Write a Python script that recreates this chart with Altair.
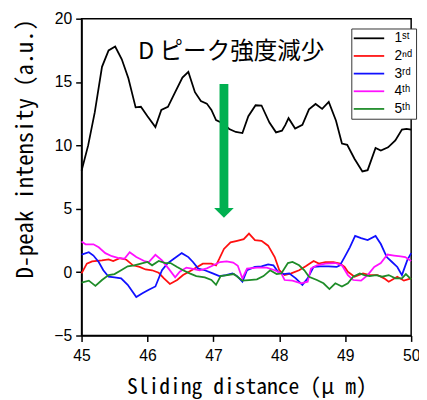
import altair as alt
import pandas as pd

# ---------------- data ----------------
series_names = ["1ˢᵗ", "2ⁿᵈ", "3ʳᵈ", "4ᵗʰ", "5ᵗʰ"]
series_colors = ["#000000", "#ff1010", "#1010ff", "#ff10ff", "#1e8c28"]

x1 = [45.0, 45.1, 45.2, 45.31, 45.41, 45.51, 45.61, 45.71, 45.82, 45.9, 46.0, 46.12, 46.21,
      46.31, 46.42, 46.53, 46.62, 46.72, 46.81, 46.9, 46.97, 47.04, 47.14, 47.24, 47.34, 47.44,
      47.53, 47.64, 47.73, 47.85, 47.95, 48.04, 48.09, 48.14, 48.24, 48.35, 48.45, 48.55, 48.65,
      48.75, 48.86, 48.95, 49.03, 49.14, 49.26, 49.34, 49.46, 49.54, 49.65, 49.76, 49.86, 49.93, 50.0]
y1 = [8.0, 10.0, 12.6, 16.2, 17.5, 17.8, 16.8, 15.3, 13.0, 13.05, 12.3, 11.45, 12.8,
      13.04, 14.2, 15.35, 15.8, 14.2, 13.5, 13.3, 12.8, 12.0, 11.75, 11.3, 11.06, 10.98,
      12.3, 13.17, 13.15, 11.8, 11.03, 11.16, 11.6, 12.15, 11.33, 11.62, 12.85, 13.27, 12.88,
      13.43, 11.95, 10.15, 10.05, 8.95, 7.95, 8.05, 9.8, 9.6, 9.85, 10.4, 11.25, 11.3, 11.25]

x2 = [45.0, 45.08, 45.16, 45.31, 45.41, 45.48, 45.58, 45.68, 45.78, 45.88, 45.97, 46.07, 46.17,
      46.25, 46.34, 46.45, 46.54, 46.67, 46.84, 46.97, 47.04, 47.09, 47.16, 47.26, 47.36, 47.46,
      47.54, 47.63, 47.73, 47.83, 47.93, 48.0, 48.08, 48.18, 48.3, 48.4, 48.52, 48.6, 48.7,
      48.82, 48.92, 48.99, 49.04, 49.14, 49.27, 49.37, 49.49, 49.59, 49.66, 49.79, 49.89, 50.0]
y2 = [-0.1, 0.67, 0.85, 0.93, 1.0, 0.88, 1.11, 0.98, 0.54, 0.41, 0.21, 0.15, -0.05,
      -0.49, -0.93, -0.62, -0.23, 0.15, 0.67, 0.67, 0.54, 1.06, 1.83, 2.35, 2.47, 2.6,
      3.04, 2.53, 2.47, 2.09, 1.19, 0.15, -0.23, -0.1, 0.15, 0.46, 0.88, 0.67, 0.8,
      0.8, 0.67, 0.41, 0.03, -0.36, -0.1, -0.23, -0.23, -0.49, -0.75, -0.36, -0.67, -0.49]

x3 = [45.0, 45.11, 45.18, 45.26, 45.33, 45.41, 45.5, 45.6, 45.7, 45.83, 45.93, 46.02, 46.12,
      46.22, 46.3, 46.4, 46.52, 46.62, 46.69, 46.77, 46.87, 46.99, 47.09, 47.19, 47.29, 47.36,
      47.44, 47.51, 47.63, 47.73, 47.83, 47.91, 47.98, 48.06, 48.15, 48.25, 48.35, 48.43, 48.52,
      48.62, 48.75, 48.87, 48.92, 48.99, 49.07, 49.15, 49.24, 49.34, 49.46, 49.54, 49.63, 49.71,
      49.79, 49.86, 49.94, 50.0]
y3 = [1.39, 1.57, 1.31, 0.8, 0.15, -0.36, -0.41, -0.49, -1.0, -1.96, -1.65, -1.39, -1.13,
      0.15, 0.67, 1.06, 1.5, 1.19, 0.8, 0.28, 0.15, -0.1, -0.31, -0.23, -0.1, -0.31,
      -0.75, 0.15, 0.41, 0.46, 0.62, 0.54, 0.03, -0.15, -0.1, -0.49, -1.0, -0.49, 0.41,
      0.46, 0.46, 0.41, 0.54, 1.19, 1.96, 2.86, 2.68, 2.53, 2.86, 2.22, 1.19, 0.8,
      0.41, -0.23, 0.93, 1.5]

x4 = [45.0, 45.06, 45.18, 45.26, 45.36, 45.46, 45.55, 45.65, 45.73, 45.83, 45.95, 46.02, 46.12,
      46.22, 46.32, 46.42, 46.49, 46.59, 46.67, 46.79, 46.9, 47.0, 47.1, 47.2, 47.3, 47.37,
      47.44, 47.51, 47.66, 47.81, 47.93, 48.03, 48.08, 48.2, 48.33, 48.43, 48.48, 48.57, 48.7,
      48.85, 48.95, 49.04, 49.12, 49.24, 49.34, 49.44, 49.54, 49.64, 49.74, 49.84, 49.91, 50.0]
y4 = [2.42, 2.2, 2.2, 1.96, 1.5, 1.26, 1.13, 1.06, 1.57, 1.19, 0.88, 0.8, 1.37,
      0.93, 0.28, -0.41, 0.03, 0.36, 0.28, 0.15, 0.3, 0.55, 0.8, 0.85, 0.75, 0.5,
      -0.5, 0.28, 0.36, 0.36, 0.15, -0.1, -0.62, -0.67, -0.88, -0.75, 0.28, 0.54, 0.67,
      0.72, 0.54, -0.23, -0.62, -0.67, -0.23, 0.41, 0.72, 1.39, 1.31, 1.24, 1.19, 0.88]

x5 = [45.0, 45.11, 45.21, 45.31, 45.41, 45.5, 45.6, 45.7, 45.8, 45.9, 46.0, 46.07, 46.17,
      46.27, 46.35, 46.45, 46.54, 46.64, 46.74, 46.87, 46.97, 47.04, 47.11, 47.21, 47.31, 47.44,
      47.54, 47.66, 47.76, 47.86, 47.96, 48.03, 48.13, 48.2, 48.3, 48.38, 48.45, 48.57, 48.67,
      48.76, 48.85, 48.95, 49.04, 49.12, 49.22, 49.29, 49.37, 49.47, 49.56, 49.66, 49.76, 49.86,
      49.92, 50.0]
y5 = [-0.82, -0.67, -1.08, -0.62, -0.23, -0.15, 0.15, 0.46, 0.54, 0.67, 0.8, 0.54, 0.88,
      0.72, 0.72, 0.41, 0.15, -0.1, -0.31, -0.41, -0.62, -1.0, -0.31, -0.23, -0.15, -0.67,
      -0.62, -0.57, -0.31, 0.15, -0.15, -0.1, 0.72, 0.8, 0.54, 0.15, -0.36, -0.62, -0.88,
      -1.34, -0.88, -1.13, -0.88, -0.36, -0.1, -0.23, -0.31, -0.23, -0.36, -0.23, -0.49, -0.49,
      -0.15, -0.57]

x_ticks = [45, 45.5, 46, 46.5, 47, 47.5, 48, 48.5, 49, 49.5, 50]
y_ticks = [-5, -2.5, 0, 2.5, 5, 7.5, 10, 12.5, 15, 17.5, 20]

annotation_text = ["D ピーク強度減少"]
x_title = "Sliding distance (μ m)"
y_title = "D-peak intensity (a.u.)"

# ---------------- table ----------------
rows = []
for k, (name, xs, ys) in enumerate(zip(series_names, [x1, x2, x3, x4, x5], [y1, y2, y3, y4, y5])):
    for a, b in zip(xs, ys):
        rows.append({"series": name, "x": a, "y": b, "k": k})
df = pd.DataFrame(rows)

AXFONT = "Noto Sans Mono CJK JP, DejaVu Sans Mono, monospace"
LBLFONT = "Liberation Sans, Arial, sans-serif"
GREEN = "#00b050"

xscale = alt.Scale(domain=[45, 50], nice=False, zero=False)
yscale = alt.Scale(domain=[-5, 20], nice=False, zero=False)

lines = alt.Chart(df).mark_line(strokeWidth=1.8, interpolate="linear").encode(
    x=alt.X("x:Q", scale=xscale,
            axis=alt.Axis(values=x_ticks,
                          labelExpr="datum.value % 1 === 0 ? format(datum.value, 'd') : ''",
                          tickSize={"condition": {"test": "datum.value % 1 === 0", "value": 6}, "value": 3},
                          labelFlush=False, labelOverlap=False, grid=False,
                          domainColor="black", tickColor="black", domainWidth=1.5, tickWidth=1.5,
                          labelFont=LBLFONT, labelFontSize=16, labelColor="black", labelPadding=6,
                          title=x_title, titleFont=AXFONT, titleFontSize=22,
                          titleFontWeight="normal", titleColor="black", titlePadding=14)),
    y=alt.Y("y:Q", scale=yscale,
            axis=alt.Axis(values=y_ticks,
                          labelExpr="datum.value % 5 === 0 ? format(datum.value, 'd') : ''",
                          tickSize={"condition": {"test": "datum.value % 5 === 0", "value": 6}, "value": 3},
                          labelOverlap=False, grid=False,
                          domainColor="black", tickColor="black", domainWidth=1.5, tickWidth=1.5,
                          labelFont=LBLFONT, labelFontSize=16, labelColor="black", labelPadding=4,
                          title=y_title, titleFont=AXFONT, titleFontSize=23, titleAnchor="end",
                          titleFontWeight="normal", titleColor="black", titlePadding=17)),
    color=alt.Color("series:N", scale=alt.Scale(domain=series_names, range=series_colors),
                    legend=alt.Legend(title=None, orient="none", legendX=275, legendY=10,
                                      symbolType="M-3,0L3,0", symbolSize=107, symbolStrokeWidth=1.8,
                                      symbolOffset=8, labelOffset=19,
                                      labelFont=LBLFONT, labelFontSize=14, labelColor="black",
                                      rowPadding=4, padding=3,
                                      strokeColor="#333333", fillColor="white")),
    detail="k:N",
)

arrow_shaft = alt.Chart(pd.DataFrame({"ax": [47.16], "ytop": [14.85], "ybot": [4.9]})).mark_rule(
    color=GREEN, strokeWidth=9, strokeCap="butt").encode(
    x="ax:Q", y="ytop:Q", y2="ybot:Q")

arrow_head = alt.Chart(pd.DataFrame({"ax": [47.16], "yh": [4.67]})).mark_point(
    shape="M-1,-0.5L1,-0.5L0,0.5Z", filled=True, color=GREEN, opacity=1, size=400, strokeWidth=0).encode(
    x="ax:Q", y="yh:Q")

annotation = alt.Chart(pd.DataFrame({"t": annotation_text, "tx": [47.27], "ty": [17.4]})).mark_text(
    font="Noto Sans CJK JP", fontSize=24, color="black", baseline="middle", align="center").encode(
    x="tx:Q", y="ty:Q", text="t:N")

chart = alt.layer(lines, arrow_shaft, arrow_head, annotation).properties(
    width=336, height=323,
    padding={"left": 75, "top": 7, "right": 8, "bottom": 70},
    autosize=alt.AutoSizeParams(type="none"),
).configure_view(stroke="black", strokeWidth=1.5)

chart.save("out.html", embed_options={"renderer": "svg", "actions": False})
